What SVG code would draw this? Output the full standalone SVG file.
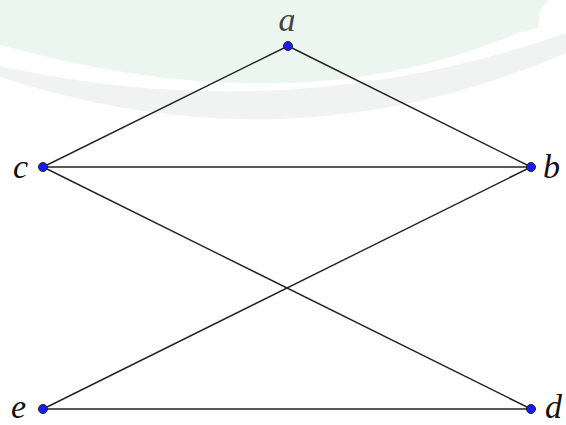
<svg xmlns="http://www.w3.org/2000/svg" width="566" height="425" viewBox="0 0 566 425">
<style>
.lbl{font-family:"Liberation Serif","DejaVu Serif",serif;font-style:italic;font-size:34px;fill:#111}
.edge{stroke:#222;stroke-width:1.4;fill:none}
.dot{fill:#1a1aff;stroke:#222;stroke-width:1}
</style>
<rect width="566" height="425" fill="#fff"/>
<g id="watermark">
<path d="M0,0 H548 L540,12 L538,28 L520,32 Q300,128 0,45 Z" fill="#ecf6f1"/>
<path d="M0,66 Q290,130 566,33 L566,53 Q290,172 0,77 Z" fill="#f1f3f2"/>
</g>
<g id="connectors">
<line class="edge" x1="288" y1="46" x2="43" y2="167" stroke="#444"/>
<line class="edge" x1="288" y1="46" x2="531" y2="167" stroke="#444"/>
<line class="edge" x1="43" y1="167" x2="531" y2="167"/>
<line class="edge" x1="43" y1="167" x2="531" y2="409"/>
<line class="edge" x1="531" y1="167" x2="43" y2="409"/>
<line class="edge" x1="43" y1="409" x2="531" y2="409"/>
</g>
<g id="node-a"><circle class="dot" cx="288" cy="46" r="4.5"/><text class="lbl" x="287" y="31" text-anchor="middle" style="fill:#444">a</text></g>
<g id="node-b"><circle class="dot" cx="531" cy="167" r="4.5"/><text class="lbl" x="543" y="178">b</text></g>
<g id="node-c"><circle class="dot" cx="43" cy="167" r="4.5"/><text class="lbl" x="13" y="178">c</text></g>
<g id="node-d"><circle class="dot" cx="531" cy="409" r="4.5"/><text class="lbl" x="545" y="418">d</text></g>
<g id="node-e"><circle class="dot" cx="43" cy="409" r="4.5"/><text class="lbl" x="11" y="418">e</text></g>
</svg>
